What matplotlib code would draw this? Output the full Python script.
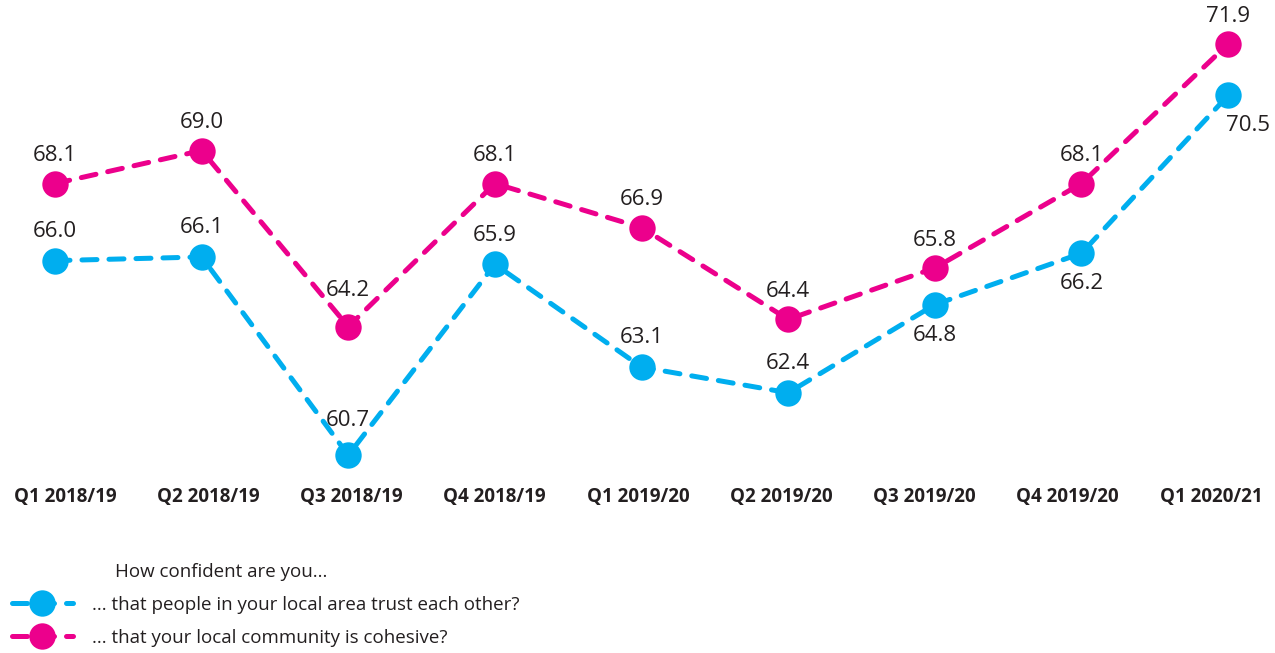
import matplotlib
matplotlib.use("Agg")
import matplotlib.pyplot as plt
from matplotlib.lines import Line2D

quarters = ["Q1 2018/19", "Q2 2018/19", "Q3 2018/19", "Q4 2018/19", "Q1 2019/20",
            "Q2 2019/20", "Q3 2019/20", "Q4 2019/20", "Q1 2020/21"]
trust = [66.0, 66.1, 60.7, 65.9, 63.1, 62.4, 64.8, 66.2, 70.5]
cohesive = [68.1, 69.0, 64.2, 68.1, 66.9, 64.4, 65.8, 68.1, 71.9]
trust_label_below = [False, False, False, False, False, False, True, True, True]

legend_title = "How confident are you..."
trust_name = "... that people in your local area trust each other?"
cohesive_name = "... that your local community is cohesive?"

CYAN = "#00AEEF"
MAGENTA = "#EC008C"
TEXT = "#231F20"

plt.rcParams['font.family'] = ['Open Sans', 'DejaVu Sans']

W, H = 1275, 653
fig = plt.figure(figsize=(W / 100, H / 100), dpi=100)
# plot area runs from the top of the figure down to pixel y=475
ax = fig.add_axes([0, 1 - 475 / H, 1, 475 / H])
x = list(range(len(quarters)))

style = dict(lw=3.6, dashes=(3.0, 2.4), dash_capstyle='round', marker='o',
             markersize=19, markeredgewidth=0)
ax.plot(x, trust, color=CYAN, **style)
ax.plot(x, cohesive, color=MAGENTA, **style)

lbl = dict(textcoords='offset points', ha='center', va='center',
           fontsize=16, color=TEXT)
for xi, v in zip(x, cohesive):
    dy = 26 if xi == 2 else 20
    ax.annotate(f"{v:.1f}", (xi, v), xytext=(0, dy), **lbl)
for xi, v, below in zip(x, trust, trust_label_below):
    if below:
        dx = 14 if xi == x[-1] else 0
        ax.annotate(f"{v:.1f}", (xi, v), xytext=(dx, -22), **lbl)
    else:
        dy = 25 if xi == 2 else 21
        ax.annotate(f"{v:.1f}", (xi, v), xytext=(0, dy), **lbl)

ax.set_xlim(-0.375, 8.32)
ax.set_ylim(60.16, 73.1)
ax.set_xticks([])
ax.set_yticks([])
for s in ax.spines.values():
    s.set_visible(False)
ax.patch.set_alpha(0)

# category labels along the bottom
for i, q in enumerate(quarters):
    fig.text((65 + 143.25 * i) / W, 1 - 497 / H, q, ha='center', va='center',
             fontsize=13.5, fontweight='bold', color=TEXT)

fig.text(115 / W, 1 - 572 / H, legend_title, fontsize=13.5, color=TEXT,
         ha='left', va='center')
handles = [Line2D([], [], color=CYAN, **style), Line2D([], [], color=MAGENTA, **style)]
fig.legend(handles, [trust_name, cohesive_name], loc='upper left',
           bbox_to_anchor=(12 / W, 1 - 596 / H), frameon=False, fontsize=13.5,
           handlelength=3.25, handletextpad=1.0, labelspacing=0.8,
           borderaxespad=0, borderpad=0, labelcolor=TEXT)

fig.savefig("out.png", dpi=100)
